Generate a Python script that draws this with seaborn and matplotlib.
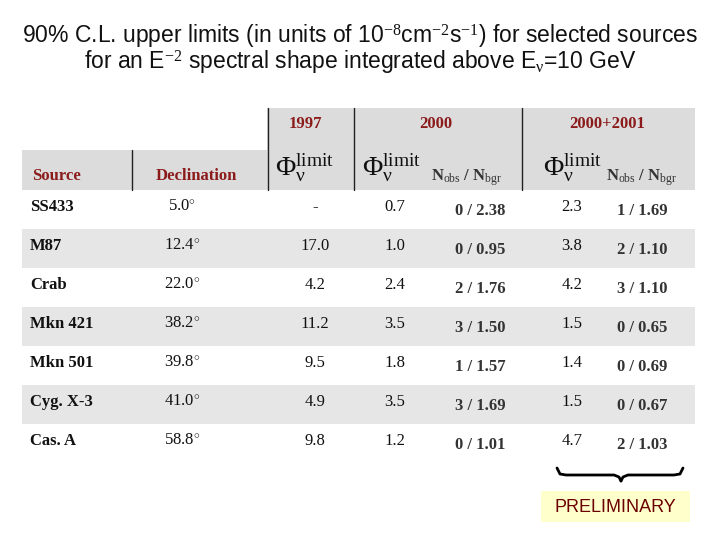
import matplotlib
matplotlib.use("Agg")
import matplotlib.pyplot as plt
import seaborn as sns
from matplotlib.patches import Rectangle

sns.set_theme(style="white")
plt.rcParams['font.family'] = ['Liberation Serif', 'DejaVu Serif']
plt.rcParams['mathtext.fontset'] = 'custom'
plt.rcParams['mathtext.rm'] = 'Liberation Serif'
plt.rcParams['mathtext.it'] = 'Liberation Serif'

sources = ["SS433", "M87", "Crab", "Mkn 421", "Mkn 501", "Cyg. X-3", "Cas. A"]
declination = ["5.0", "12.4", "22.0", "38.2", "39.8", "41.0", "58.8"]
phi_1997 = ["-", "17.0", "4.2", "11.2", "9.5", "4.9", "9.8"]
phi_2000 = ["0.7", "1.0", "2.4", "3.5", "1.8", "3.5", "1.2"]
n_2000 = ["0 / 2.38", "0 / 0.95", "2 / 1.76", "3 / 1.50", "1 / 1.57", "3 / 1.69", "0 / 1.01"]
phi_2001 = ["2.3", "3.8", "4.2", "1.5", "1.4", "1.5", "4.7"]
n_2001 = ["1 / 1.69", "2 / 1.10", "3 / 1.10", "0 / 0.65", "0 / 0.69", "0 / 0.67", "2 / 1.03"]

fig = plt.figure(figsize=(7.2, 5.4), dpi=100)
ax = fig.add_axes([0, 0, 1, 1])
ax.set_xlim(0, 720); ax.set_ylim(540, 0); ax.axis('off')

red = '#8B1A1A'; gray = '#DCDCDC'; ink = '#333333'
sans = ['Liberation Sans', 'DejaVu Sans']
ax.text(360, 37, r"90% C.L. upper limits (in units of 10$^{-8}$cm$^{-2}$s$^{-1}$) for selected sources",
        ha='center', va='center', fontsize=16.5, family=sans, color='#111111')
ax.text(360, 63, r"for an E$^{-2}$ spectral shape integrated above E$_{\nu}$=10 GeV",
        ha='center', va='center', fontsize=16.5, family=sans, color='#111111')

ax.add_patch(Rectangle((267, 108), 428, 42, color=gray, lw=0))
ax.add_patch(Rectangle((22, 150), 673, 40, color=gray, lw=0))
for x, y0 in [(132, 150), (268, 108), (354, 108), (522, 108)]:
    ax.plot([x, x], [y0, 190], color='#222222', lw=1)
for i in range(len(sources)):
    y0 = 190 + i * 39
    if i % 2 == 1:
        ax.add_patch(Rectangle((22, y0), 673, 39, color='#E6E6E6', lw=0))

fs = 12
ax.text(305, 124, "1997", ha='center', va='center', color=red, fontsize=fs, weight='bold')
ax.text(436, 124, "2000", ha='center', va='center', color=red, fontsize=fs, weight='bold')
ax.text(607, 124, "2000+2001", ha='center', va='center', color=red, fontsize=fs, weight='bold')
ax.text(32, 176, "Source", ha='left', va='center', color=red, fontsize=fs, weight='bold')
ax.text(196, 176, "Declination", ha='center', va='center', color=red, fontsize=fs, weight='bold')
phi = r"$\Phi_{\nu}^{\mathrm{limit}}$"
for x in [305, 392, 573]:
    ax.text(x, 168, phi, ha='center', va='center', fontsize=20, color='#111111')
for x in [467, 642]:
    ax.text(x, 178, r"N$_{\mathrm{obs}}$ / N$_{\mathrm{bgr}}$", ha='center', va='center',
            fontsize=fs, weight='bold', color=ink)

for i in range(len(sources)):
    y = 207 + i * 39
    ax.text(30, y, sources[i], ha='left', va='center', fontsize=fs, weight='bold', color='#111111')
    ax.text(182, y, declination[i] + r"$^{\circ}$", ha='center', va='center', fontsize=fs, color='#111111')
    ax.text(315, y, phi_1997[i], ha='center', va='center', fontsize=fs, color='#111111')
    ax.text(395, y, phi_2000[i], ha='center', va='center', fontsize=fs, color='#111111')
    ax.text(480, y + 4, n_2000[i], ha='center', va='center', fontsize=fs, weight='bold', color=ink)
    ax.text(572, y, phi_2001[i], ha='center', va='center', fontsize=fs, color='#111111')
    ax.text(642, y + 4, n_2001[i], ha='center', va='center', fontsize=fs, weight='bold', color=ink)

ax.plot([557, 560, 566, 614, 619, 621], [468, 474, 475, 475, 477, 481], color='black', lw=2)
ax.plot([683, 680, 674, 628, 623, 621], [468, 474, 475, 475, 477, 481], color='black', lw=2)

ax.add_patch(Rectangle((541, 491), 149, 31, color='#FFFFCC', lw=0))
ax.text(615, 507, "PRELIMINARY", ha='center', va='center', fontsize=13, family=sans, color='#6B0000')

fig.savefig("out.png", dpi=100)
